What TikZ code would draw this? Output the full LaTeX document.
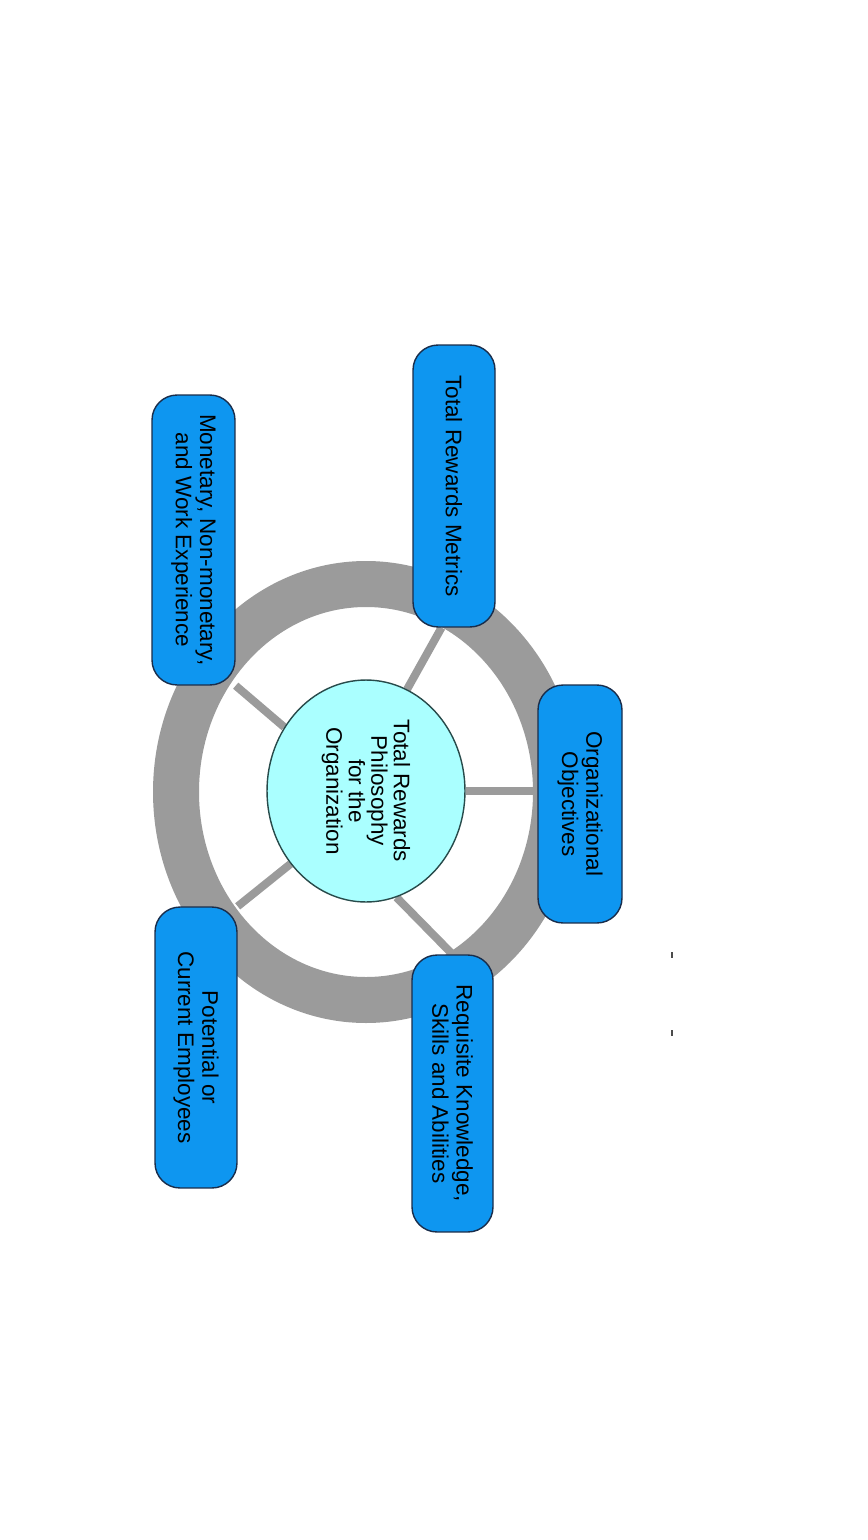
\documentclass[tikz,border=0pt]{standalone}
\usepackage{fontspec}
\setmainfont{Liberation Sans}
\usetikzlibrary{shapes.geometric,backgrounds,calc}
\definecolor{boxblue}{RGB}{14,150,240}
\definecolor{boxline}{RGB}{25,45,75}
\definecolor{hubcyan}{RGB}{170,255,255}
\definecolor{hubline}{RGB}{40,75,75}
\definecolor{ringgray}{RGB}{155,155,155}
\begin{document}
\begin{tikzpicture}[x=0.02cm,y=-0.02cm,
  factor/.style={draw=boxline,line width=0.8pt,fill=boxblue,rounded corners=0.5cm,
    rotate=-90,align=center,inner sep=0pt,font=\fontsize{12.8}{13.8}\selectfont},
  hub/.style={ellipse,draw=hubline,line width=0.8pt,fill=hubcyan,rotate=-90,
    minimum width=4.44cm,minimum height=3.96cm,inner sep=0pt,align=center,
    font=\fontsize{12.8}{12.8}\selectfont},
  spoke/.style={ringgray,line width=0.16cm}]
\begin{pgfonlayer}{background}
\fill[white] (0,0) rectangle (867,1540);
\end{pgfonlayer}

\draw[ringgray,line width=0.92cm] (366,792) ellipse [x radius=190,y radius=208];

\node[hub] (hub) at (366,791) {Total Rewards\\Philosophy\\for the\\Organization};

\node[factor,minimum width=5.8cm,minimum height=1.66cm] (mon) at (193.5,540) {Monetary, Non-monetary,\\and Work Experience};
\node[factor,minimum width=5.64cm,minimum height=1.64cm] (met) at (454,486) {Total Rewards Metrics};
\node[factor,minimum width=4.76cm,minimum height=1.68cm] (obj) at (580,804) {Organizational\\Objectives};
\node[factor,minimum width=5.54cm,minimum height=1.62cm] (req) at (452.5,1093.5) {Requisite Knowledge,\\Skills and Abilities};
\node[factor,minimum width=5.62cm,minimum height=1.64cm] (pot) at (196,1047.5) {Potential or\\Current Employees};

\begin{pgfonlayer}{background}
\draw[spoke] (hub.232) -- (mon.north east);
\draw[spoke] (hub.158) -- ($(met.east)!0.3!(met.south east)$);
\draw[spoke] (hub.north) -- (hub.north -| obj.south);
\draw[spoke] (hub.16) -- (req.west);
\draw[spoke] (hub.314) -- (pot.north west);
\end{pgfonlayer}

\fill[black!70] (671,952) rectangle (673,958);
\fill[black!70] (671,1030) rectangle (673,1036);
\end{tikzpicture}
\end{document}
